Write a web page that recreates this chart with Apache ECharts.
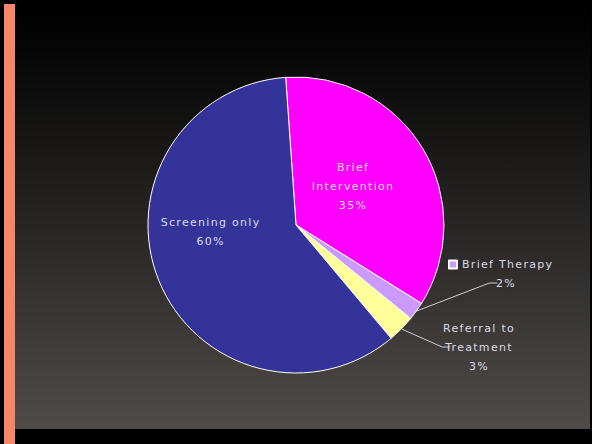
<!DOCTYPE html>
<html>
<head>
<meta charset="utf-8">
<script src="https://cdn.jsdelivr.net/npm/echarts@6/dist/echarts.min.js"></script>
<style>
  html, body { margin: 0; padding: 0; background: #000; }
  #chart { width: 592px; height: 444px; }
  /* the original slide font is widely spaced */
  #chart text { letter-spacing: 1.3px; }
</style>
</head>
<body>
<div id="chart"></div>
<script>
// pie data, clockwise from the top
var names = ['Brief\nIntervention', 'Brief Therapy', 'Referral to\nTreatment', 'Screening only'];
var values = [35, 2, 3, 60];
var colors = ['#FF00FF', '#CC99FF', '#FFFF99', '#333399'];

var myChart = echarts.init(document.getElementById('chart'), null, {renderer: 'svg'});

var pieData = names.map(function (n, i) {
    var item = {name: n, value: values[i], itemStyle: {color: colors[i]}};
    if (i == 0) {
        item.label = {offset: [-9, 1]};
    }
    if (i == 1) {
        // the name is shown by the legend key next to it
        item.label = {position: 'outside', formatter: '{d}%'};
    }
    if (i == 2) {
        item.label = {position: 'outside', formatter: '{b}\n{d}%'};
    }
    if (i == 3) {
        item.label = {offset: [-14, -22]};
    }
    return item;
});

option = {
    backgroundColor: '#000',
    animation: false,
    graphic: [
        {type: 'rect', shape: {x: 4, y: 4, width: 11, height: 440}, style: {fill: '#F4876A'}, z: -10},
        {
            type: 'rect', shape: {x: 15, y: 3, width: 575, height: 426}, z: -10,
            style: {
                fill: new echarts.graphic.LinearGradient(0, 0, 0, 1, [
                    {offset: 0, color: '#000000'},
                    {offset: 0.1, color: '#050505'},
                    {offset: 1, color: '#4F4B48'}
                ])
            }
        }
    ],
    legend: {
        data: [names[1]],
        left: 448,
        top: 259,
        padding: 0,
        icon: 'rect',
        itemWidth: 8,
        itemHeight: 8,
        selectedMode: false,
        textStyle: {color: '#DCDCE6', fontFamily: 'DejaVu Sans', fontSize: 11, padding: [0, 0, 0, 0]}
    },
    series: [
        {
            type: 'pie',
            center: [296, 225],
            radius: 148,
            startAngle: 94,
            clockwise: true,
            avoidLabelOverlap: false,
            itemStyle: {borderColor: '#ffffff', borderWidth: 1},
            label: {
                show: true,
                position: 'inside',
                color: '#DCDCE6',
                fontFamily: 'DejaVu Sans',
                fontSize: 11,
                lineHeight: 19,
                align: 'center',
                formatter: '{b}\n{d}%'
            },
            labelLine: {
                show: true,
                length: 10,
                length2: 8,
                lineStyle: {color: '#D0D0D0', width: 1}
            },
            labelLayout: function (params) {
                if (params.dataIndex == 1) {
                    return {x: 506, y: 283, align: 'center', verticalAlign: 'middle'};
                }
                if (params.dataIndex == 2) {
                    return {x: 479, y: 347, align: 'center', verticalAlign: 'middle'};
                }
                return {};
            },
            data: pieData
        }
    ]
};
myChart.setOption(option);
</script>
</body>
</html>
